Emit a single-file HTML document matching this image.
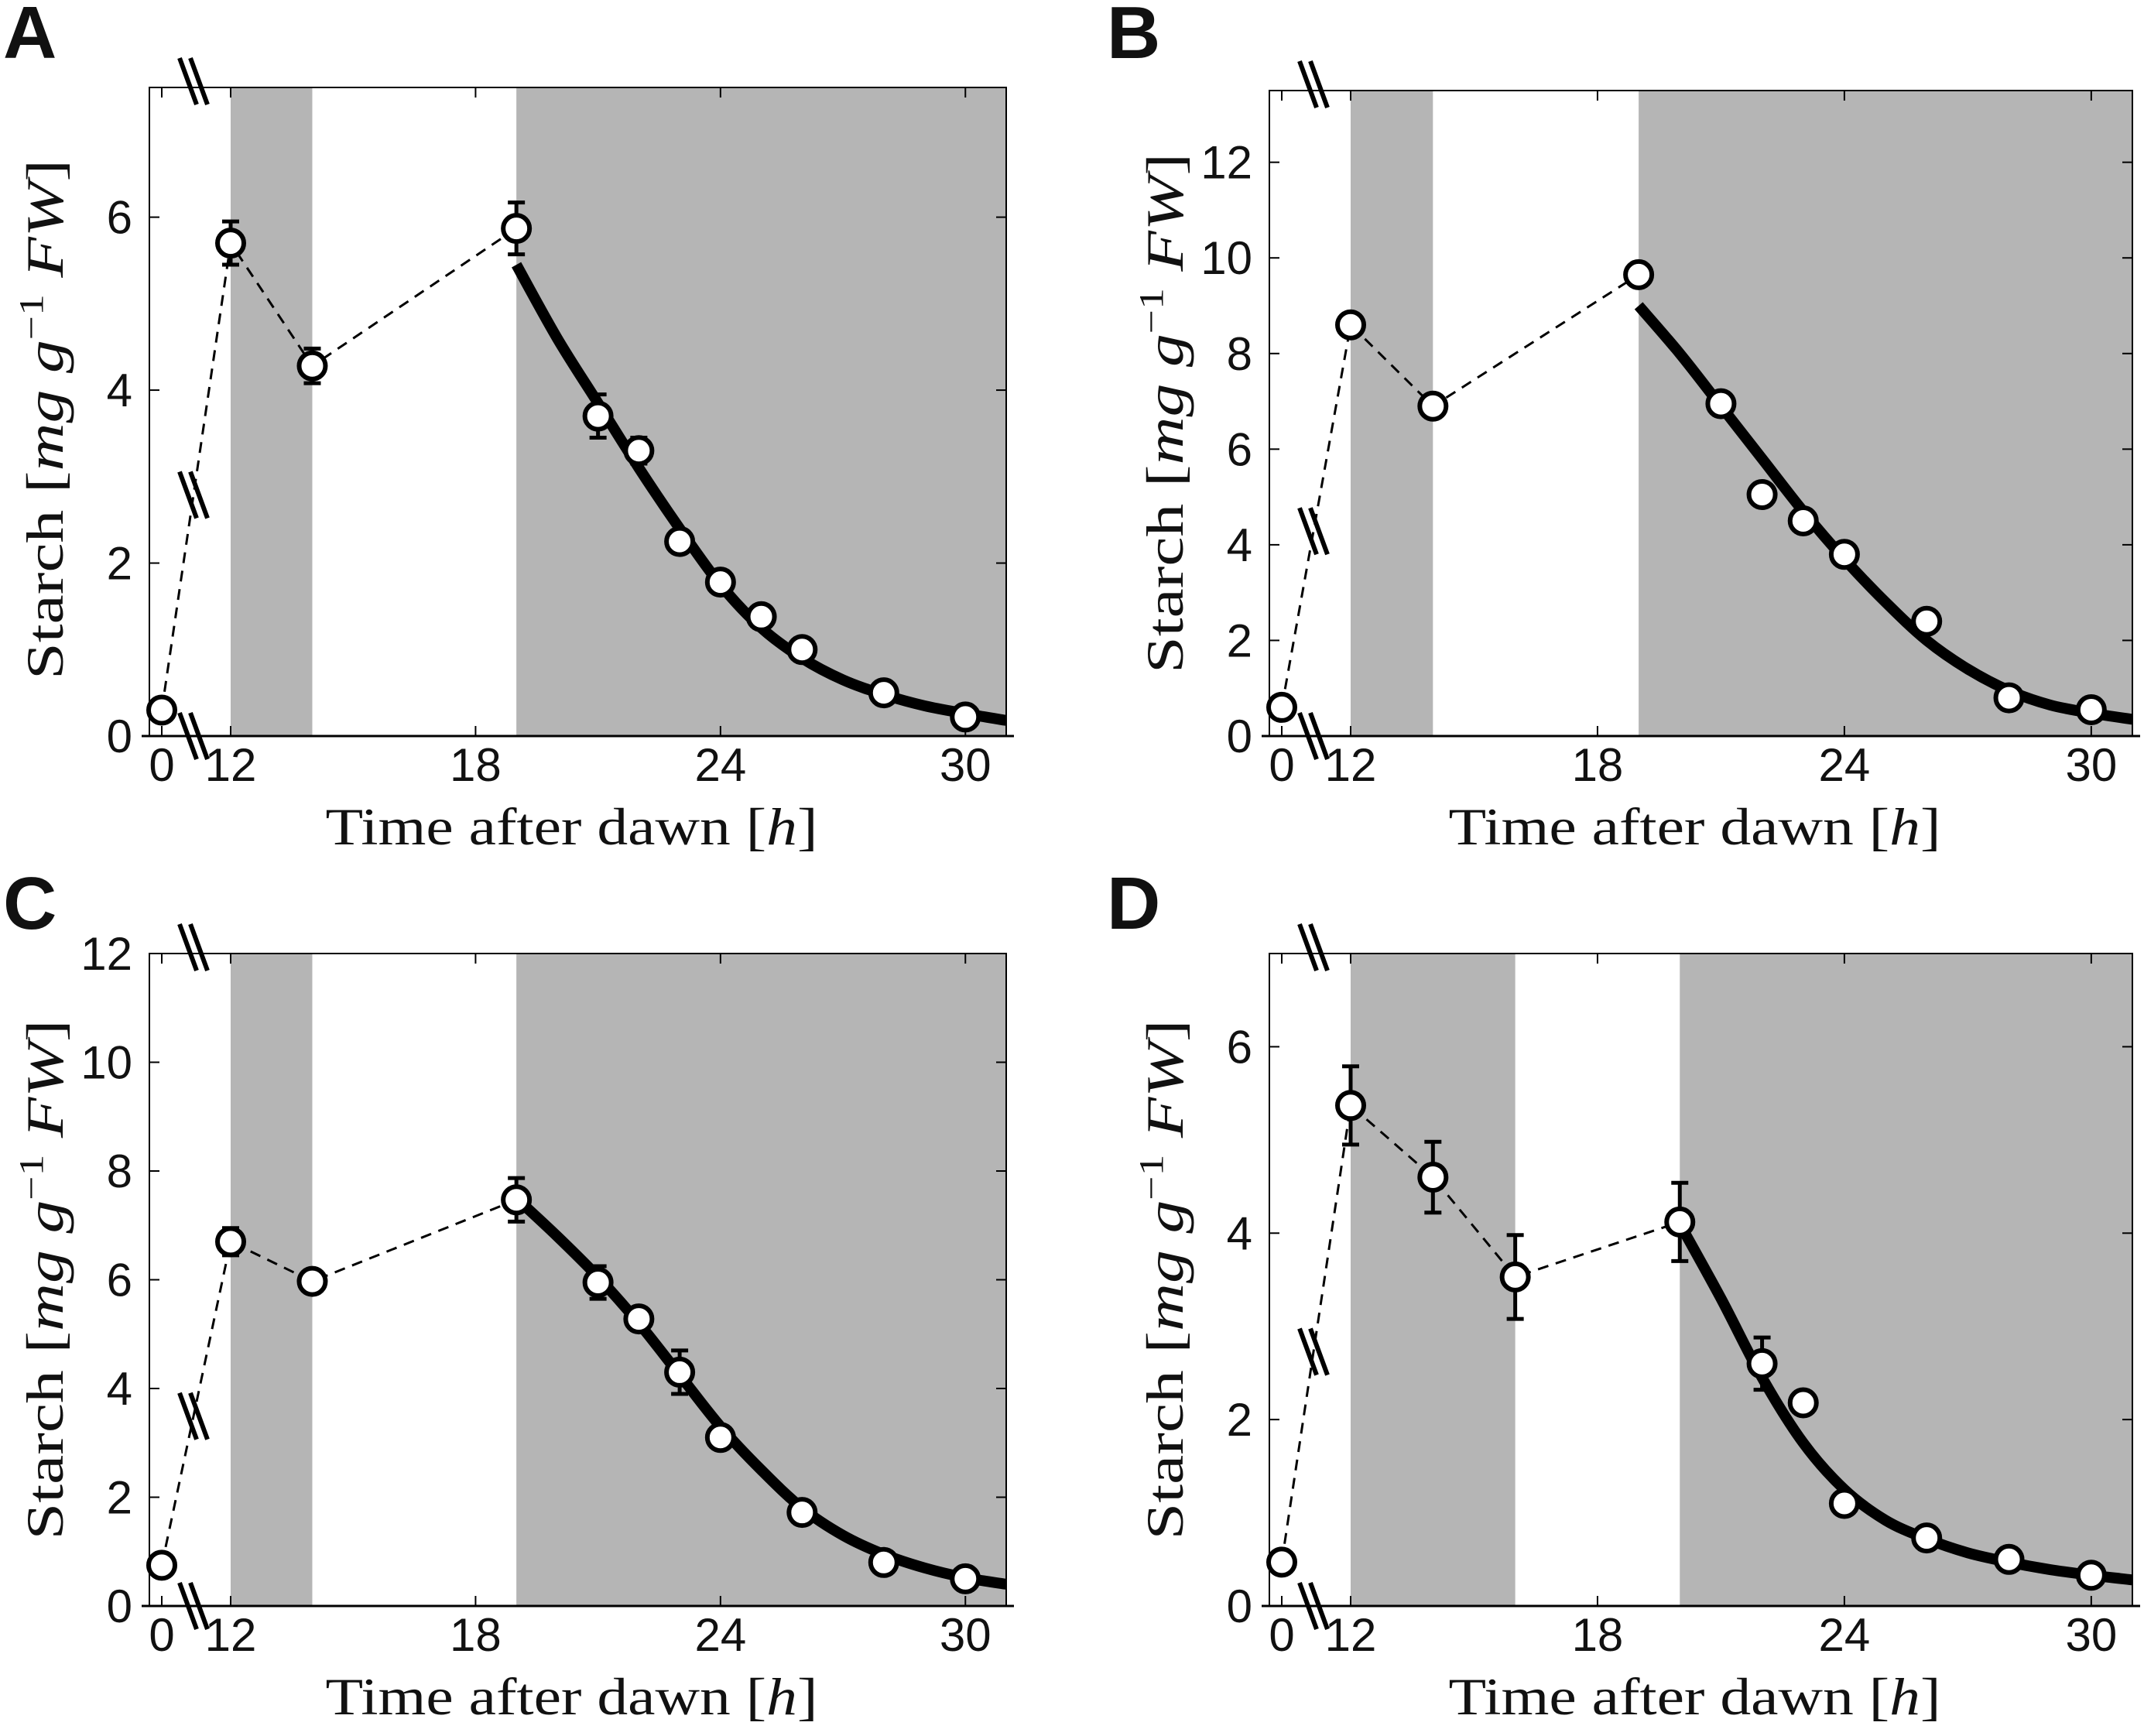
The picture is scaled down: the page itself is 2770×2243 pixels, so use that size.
<!DOCTYPE html>
<html><head><meta charset="utf-8"><style>
html,body{margin:0;padding:0;background:#fff}
svg{display:block}
</style></head><body>
<svg id="fig" width="2770" height="2243" viewBox="0 0 2770 2243" xmlns="http://www.w3.org/2000/svg"></svg>
<script>
// ---- data ----
const xTickLabels = [0, 12, 18, 24, 30];
const aTimes = [0, 12, 14, 19, 21, 22, 23, 24, 25, 26, 28, 30];
const aValues = [0.3, 5.7, 4.28, 5.87, 3.7, 3.3, 2.25, 1.78, 1.38, 1.0, 0.5, 0.22];
const aErrors = [0, 0.25, 0.2, 0.3, 0.25, 0.15, 0, 0, 0, 0, 0, 0];
const aFitTimes = [19, 20, 21, 22, 23, 24, 25, 26, 27, 28, 29, 30, 31];
const aFitValues = [5.45, 4.6, 3.85, 3.1, 2.4, 1.75, 1.25, 0.9, 0.65, 0.48, 0.35, 0.26, 0.18];
const aYTicks = [0, 2, 4, 6];

const bTimes = [0, 12, 14, 19, 21, 22, 23, 24, 26, 28, 30];
const bValues = [0.6, 8.6, 6.9, 9.65, 6.95, 5.05, 4.5, 3.8, 2.4, 0.8, 0.55];
const bErrors = [0, 0.1, 0.1, 0.1, 0.1, 0.15, 0.1, 0.1, 0.1, 0.1, 0.05];
const bFitTimes = [19, 20, 21, 22, 23, 24, 25, 26, 27, 28, 29, 30, 31];
const bFitValues = [9.0, 8.0, 6.9, 5.8, 4.7, 3.7, 2.8, 2.0, 1.4, 0.95, 0.65, 0.48, 0.35];
const bYTicks = [0, 2, 4, 6, 8, 10, 12];

const cTimes = [0, 12, 14, 19, 21, 22, 23, 24, 26, 28, 30];
const cValues = [0.75, 6.7, 5.97, 7.47, 5.95, 5.28, 4.3, 3.1, 1.72, 0.8, 0.5];
const cErrors = [0, 0.25, 0.1, 0.4, 0.3, 0.1, 0.4, 0, 0, 0, 0];
const cFitTimes = [19, 20, 21, 22, 23, 24, 25, 26, 27, 28, 29, 30, 31];
const cFitValues = [7.5, 6.8, 6.05, 5.2, 4.25, 3.3, 2.5, 1.8, 1.3, 0.95, 0.7, 0.52, 0.4];
const cYTicks = [0, 2, 4, 6, 8, 10, 12];

const dTimes = [0, 12, 14, 16, 20, 22, 23, 24, 26, 28, 30];
const dValues = [0.47, 5.37, 4.6, 3.53, 4.12, 2.6, 2.18, 1.1, 0.73, 0.5, 0.33];
const dErrors = [0, 0.42, 0.38, 0.45, 0.42, 0.28, 0.05, 0, 0, 0, 0];
const dFitTimes = [20, 21, 22, 23, 24, 25, 26, 27, 28, 29, 30, 31];
const dFitValues = [4.1, 3.3, 2.45, 1.75, 1.25, 0.92, 0.72, 0.57, 0.47, 0.39, 0.33, 0.28];
const dYTicks = [0, 2, 4, 6];

const NS = 'http://www.w3.org/2000/svg';
const svg = document.getElementById('fig');
function mk(tag, attrs, parent) {
  const e = document.createElementNS(NS, tag);
  for (const k in attrs) e.setAttribute(k, attrs[k]);
  (parent || svg).appendChild(e);
  return e;
}

function panel(o) {
  const g = mk('g', {});
  
  
  const L = o.L, R = o.R, T = o.T, B = o.B;
  const xs = h => h <= 0 ? L + 16 : L + 105 + (h - 12) * (R - L - 105) / 19;
  const ys = v => B - v * (B - T) / o.ymax;

  o.bands.forEach(bd => {
    const r = mk('rect', {x: xs(bd[0]), y: T, width: Math.min(xs(bd[1]), R) - xs(bd[0]), height: B - T, fill: '#b5b5b5'}, g);
    
    
  });

  const box = mk('rect', {x: L, y: T, width: R - L, height: B - T, fill: 'none', stroke: '#000', 'stroke-width': 2}, g);
  
  
  mk('line', {x1: L - 10, y1: B, x2: R + 10, y2: B, stroke: '#000', 'stroke-width': 3}, g);

  xTickLabels.forEach(t => {
    const x = xs(t);
    mk('line', {x1: x, y1: B, x2: x, y2: B - 13, stroke: '#000', 'stroke-width': 2}, g);
    mk('line', {x1: x, y1: T, x2: x, y2: T + 13, stroke: '#000', 'stroke-width': 2}, g);
    const tx = mk('text', {x: x, y: B + 58, 'text-anchor': 'middle', 'font-family': 'Liberation Sans Narrow, Liberation Sans, sans-serif', 'font-size': 60, fill: '#111'}, g);
    tx.textContent = t;
    
    
  });
  o.yticks.forEach(v => {
    const y = ys(v);
    mk('line', {x1: L, y1: y, x2: L + 13, y2: y, stroke: '#000', 'stroke-width': 2}, g);
    mk('line', {x1: R, y1: y, x2: R - 13, y2: y, stroke: '#000', 'stroke-width': 2}, g);
    const tx = mk('text', {x: L - 22, y: y + 21, 'text-anchor': 'end', 'font-family': 'Liberation Sans Narrow, Liberation Sans, sans-serif', 'font-size': 60, fill: '#111'}, g);
    tx.textContent = v;
    
    
  });

  const dashIdx = [];
  for (let i = 0; i < o.times.length; i++) if (o.times[i] <= o.fitT[0]) dashIdx.push(i);
  const dpts = dashIdx.map(i => xs(o.times[i]) + ',' + ys(o.vals[i])).join(' ');
  const dl = mk('polyline', {points: dpts, fill: 'none', stroke: '#000', 'stroke-width': 3, 'stroke-dasharray': '14,10'}, g);
  
  

  const P = o.fitT.map((t, i) => [xs(t), ys(o.fitV[i])]);
  let d = 'M' + P[0][0] + ',' + P[0][1];
  for (let i = 0; i < P.length - 1; i++) {
    const p0 = P[Math.max(0, i - 1)], p1 = P[i], p2 = P[i + 1], p3 = P[Math.min(P.length - 1, i + 2)];
    const c1 = [p1[0] + (p2[0] - p0[0]) / 6, p1[1] + (p2[1] - p0[1]) / 6];
    const c2 = [p2[0] - (p3[0] - p1[0]) / 6, p2[1] - (p3[1] - p1[1]) / 6];
    d += ' C' + c1 + ' ' + c2 + ' ' + p2;
  }
  const clipId = 'clip' + o.letter;
  const cp = mk('clipPath', {id: clipId}, g);
  mk('rect', {x: L, y: T, width: R - L, height: B - T}, cp);
  const fc = mk('path', {d: d, fill: 'none', stroke: '#000', 'stroke-width': 14, 'clip-path': 'url(#' + clipId + ')'}, g);
  
  

  const bx = L + 57;
  const y0 = ys(o.vals[0]), y12 = ys(o.vals[1]);
  const midY = y0 + (y12 - y0) * (bx - xs(0)) / (xs(12) - xs(0));
  [[bx, T - 8], [bx, midY], [bx, B]].forEach(pos => {
    const bg = mk('g', {}, g);
    
    
    [-7, 7].forEach(off => {
      mk('line', {x1: pos[0] + off - 11, y1: pos[1] - 30, x2: pos[0] + off + 11, y2: pos[1] + 30, stroke: '#000', 'stroke-width': 6}, bg);
    });
  });

  o.times.forEach((t, i) => {
    const x = xs(t), y = ys(o.vals[i]), e = o.errs[i];
    if (e > 0) {
      const eg = mk('g', {}, g);
      
      
      const yt = ys(o.vals[i] + e), yb = ys(o.vals[i] - e);
      mk('line', {x1: x, y1: yt, x2: x, y2: yb, stroke: '#000', 'stroke-width': 5}, eg);
      mk('line', {x1: x - 11, y1: yt, x2: x + 11, y2: yt, stroke: '#000', 'stroke-width': 5}, eg);
      mk('line', {x1: x - 11, y1: yb, x2: x + 11, y2: yb, stroke: '#000', 'stroke-width': 5}, eg);
    }
    const c = mk('circle', {cx: x, cy: y, r: 17, fill: '#fff', stroke: '#000', 'stroke-width': 6}, g);
    
    
  });

  const xt = mk('text', {x: (L + R) / 2 - 8, y: B + 140, 'text-anchor': 'middle', 'font-family': 'Liberation Serif, serif', 'font-size': 68, fill: '#111', textLength: 636, lengthAdjust: 'spacingAndGlyphs'}, g);
  xt.innerHTML = 'Time after dawn [<tspan font-style="italic">h</tspan>]';
  
  
  const cy = (T + B) / 2 + o.ytOff;
  const yt = mk('text', {x: 0, y: 0, 'text-anchor': 'middle', 'font-family': 'Liberation Serif, serif', 'font-size': 68, fill: '#111', textLength: 672, lengthAdjust: 'spacingAndGlyphs', transform: 'translate(' + (L - 112) + ',' + cy + ') rotate(-90)'}, g);
  yt.innerHTML = 'Starch [<tspan font-style="italic">mg g</tspan><tspan dy="-26" font-size="44">−1</tspan><tspan dy="26" font-style="italic"> FW</tspan>]';
  
  

  const lt = mk('text', {x: o.lx, y: o.ly, 'font-family': 'Liberation Sans, sans-serif', 'font-weight': 'bold', 'font-size': 96, fill: '#111'}, g);
  lt.textContent = o.letter;
  
  
}

panel({letter: 'A', L: 193, R: 1300, T: 113, B: 951, ymax: 7.5, yticks: aYTicks, times: aTimes, vals: aValues, errs: aErrors, fitT: aFitTimes, fitV: aFitValues, bands: [[12, 14], [19, 32]], lx: 4, ly: 75, ytOff: 10});
panel({letter: 'B', L: 1640, R: 2755, T: 117, B: 951, ymax: 13.5, yticks: bYTicks, times: bTimes, vals: bValues, errs: bErrors, fitT: bFitTimes, fitV: bFitValues, bands: [[12, 14], [19, 32]], lx: 1430, ly: 75, ytOff: 0});
panel({letter: 'C', L: 193, R: 1300, T: 1232, B: 2075, ymax: 12, yticks: cYTicks, times: cTimes, vals: cValues, errs: cErrors, fitT: cFitTimes, fitV: cFitValues, bands: [[12, 14], [19, 32]], lx: 4, ly: 1200, ytOff: 0});
panel({letter: 'D', L: 1640, R: 2755, T: 1232, B: 2075, ymax: 7, yticks: dYTicks, times: dTimes, vals: dValues, errs: dErrors, fitT: dFitTimes, fitV: dFitValues, bands: [[12, 16], [20, 32]], lx: 1430, ly: 1200, ytOff: 0});
</script>
</body></html>
